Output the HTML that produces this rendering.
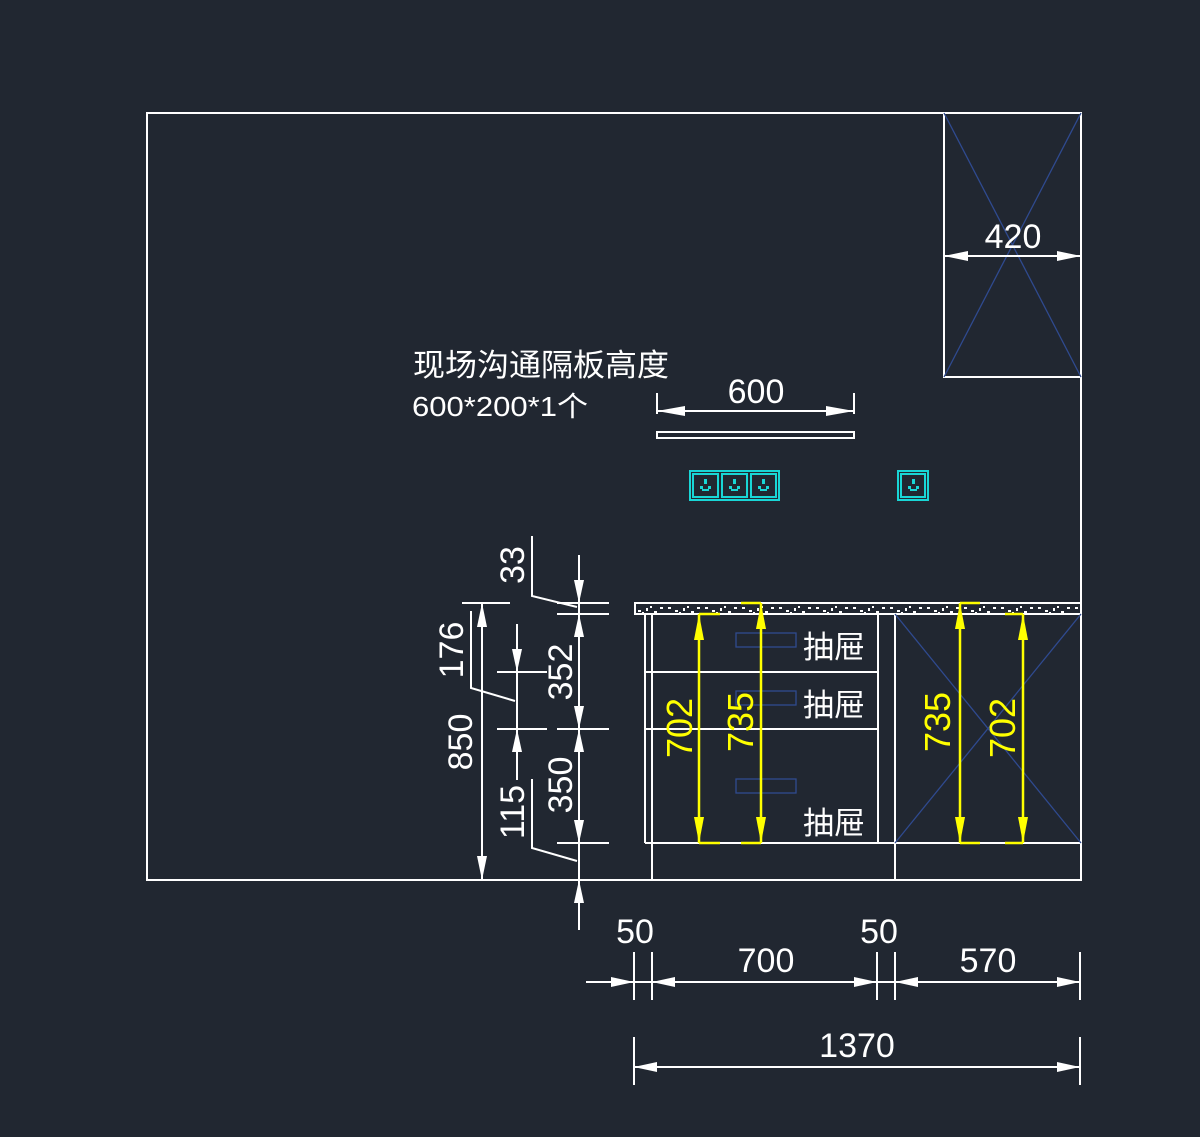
<!DOCTYPE html>
<html><head><meta charset="utf-8"><style>
html,body{margin:0;padding:0;background:#212731;}
svg{display:block}
text{font-family:"Liberation Sans","Noto Sans CJK SC",sans-serif;}
</style></head><body>
<svg width="1200" height="1137" viewBox="0 0 1200 1137" xmlns="http://www.w3.org/2000/svg">
<rect width="1200" height="1137" fill="#212731"/>
<defs>
<pattern id="sp" x="0" y="0" width="37" height="11" patternUnits="userSpaceOnUse">
<rect x="2" y="2" width="3" height="2" fill="#fff"/><rect x="9" y="5" width="3" height="2" fill="#fff"/>
<rect x="17" y="3" width="2" height="3" fill="#fff"/><rect x="25" y="6" width="3" height="2" fill="#fff"/>
<rect x="31" y="2" width="3" height="2" fill="#fff"/><rect x="13" y="7" width="2" height="2" fill="#fff"/>
<rect x="21" y="1" width="2" height="2" fill="#fff"/>
</pattern>
</defs>
<g stroke="#fff" stroke-width="2" fill="none">
<rect x="147" y="113" width="934" height="767"/>
<rect x="944" y="113" width="137" height="264"/>
<rect x="657" y="432" width="197" height="6"/>
<rect x="635" y="603" width="446" height="11"/>
<line x1="645" y1="614" x2="645" y2="843"/>
<line x1="652" y1="614" x2="652" y2="880"/>
<line x1="878" y1="614" x2="878" y2="843"/>
<line x1="895" y1="614" x2="895" y2="880"/>
<line x1="645" y1="672" x2="878" y2="672"/>
<line x1="645" y1="729" x2="878" y2="729"/>
<line x1="645" y1="843" x2="1081" y2="843"/>
</g>
<rect x="636" y="604" width="444" height="9" fill="url(#sp)"/>
<g stroke="#2f4a8f" stroke-width="1.3" fill="none">
<line x1="944" y1="113" x2="1081" y2="377"/><line x1="1081" y1="113" x2="944" y2="377"/>
<line x1="895" y1="614" x2="1081" y2="843"/><line x1="1081" y1="614" x2="895" y2="843"/>
<rect x="736" y="633" width="60" height="14"/>
<rect x="736" y="691" width="60" height="14"/>
<rect x="736" y="779" width="60" height="14"/>
</g>
<g stroke="#19d6d6" stroke-width="2" fill="none">
<rect x="690" y="471" width="89" height="29"/>
<rect x="693" y="474" width="25" height="23"/><rect x="722" y="474" width="25" height="23"/><rect x="751" y="474" width="25" height="23"/>
<rect x="898" y="471" width="30" height="29"/><rect x="901" y="474" width="24" height="23"/>
</g>
<g fill="#19d6d6">
<rect x="704" y="479" width="3" height="5"/><rect x="700" y="486" width="3" height="3"/><rect x="708" y="486" width="3" height="3"/><rect x="702" y="489" width="7" height="2"/>
<rect x="733" y="479" width="3" height="5"/><rect x="729" y="486" width="3" height="3"/><rect x="737" y="486" width="3" height="3"/><rect x="731" y="489" width="7" height="2"/>
<rect x="762" y="479" width="3" height="5"/><rect x="758" y="486" width="3" height="3"/><rect x="766" y="486" width="3" height="3"/><rect x="760" y="489" width="7" height="2"/>
<rect x="912" y="479" width="3" height="5"/><rect x="908" y="486" width="3" height="3"/><rect x="916" y="486" width="3" height="3"/><rect x="910" y="489" width="7" height="2"/>
</g>
<g stroke="#fff" stroke-width="2" fill="none">
<line x1="944" y1="256" x2="1081" y2="256"/>
<line x1="657" y1="393" x2="657" y2="414"/><line x1="854" y1="393" x2="854" y2="414"/>
<line x1="657" y1="411" x2="854" y2="411"/>
<line x1="482" y1="603" x2="482" y2="880"/><line x1="462" y1="603" x2="510" y2="603"/>
<line x1="462" y1="880" x2="512" y2="880"/>
<line x1="579" y1="555" x2="579" y2="930"/>
<line x1="557" y1="603" x2="609" y2="603"/><line x1="557" y1="614" x2="609" y2="614"/>
<line x1="557" y1="729" x2="609" y2="729"/><line x1="557" y1="843" x2="609" y2="843"/>
<line x1="557" y1="880" x2="609" y2="880"/>
<line x1="517" y1="624" x2="517" y2="780"/>
<line x1="497" y1="672" x2="547" y2="672"/><line x1="497" y1="729" x2="547" y2="729"/>
<polyline points="532,536 532,596 577,607"/>
<polyline points="471,611 471,688 515,701"/>
<polyline points="532,779 532,848 577,861"/>
<line x1="586" y1="982" x2="1080" y2="982"/>
<line x1="634" y1="952" x2="634" y2="1000"/><line x1="652" y1="952" x2="652" y2="1000"/>
<line x1="877" y1="952" x2="877" y2="1000"/><line x1="895" y1="952" x2="895" y2="1000"/>
<line x1="1080" y1="952" x2="1080" y2="1000"/>
<line x1="634" y1="1067" x2="1080" y2="1067"/>
<line x1="634" y1="1037" x2="634" y2="1085"/><line x1="1080" y1="1037" x2="1080" y2="1085"/>
</g>
<g fill="#fff">
<polygon points="944,256 968,251 968,261"/><polygon points="1081,256 1057,251 1057,261"/>
<polygon points="657,411 685,406 685,416"/><polygon points="854,411 826,406 826,416"/>
<polygon points="482,603 477,627 487,627"/><polygon points="482,880 477,856 487,856"/>
<polygon points="579,603 574,580 584,580"/><polygon points="579,614 574,637 584,637"/>
<polygon points="579,729 574,706 584,706"/><polygon points="579,729 574,752 584,752"/>
<polygon points="579,843 574,820 584,820"/><polygon points="579,880 574,903 584,903"/>
<polygon points="517,672 512,649 522,649"/><polygon points="517,729 512,752 522,752"/>
<polygon points="634,982 611,977 611,987"/><polygon points="652,982 675,977 675,987"/>
<polygon points="877,982 854,977 854,987"/><polygon points="895,982 918,977 918,987"/>
<polygon points="1080,982 1057,977 1057,987"/>
<polygon points="634,1067 657,1062 657,1072"/><polygon points="1080,1067 1057,1062 1057,1072"/>
</g>
<g stroke="#ffff00" stroke-width="2.5" fill="none">
<line x1="699" y1="614" x2="699" y2="843"/><line x1="761" y1="603" x2="761" y2="843"/>
<line x1="960" y1="603" x2="960" y2="843"/><line x1="1023" y1="614" x2="1023" y2="843"/>
<line x1="699" y1="614" x2="720" y2="614"/><line x1="699" y1="843" x2="720" y2="843"/>
<line x1="741" y1="603" x2="761" y2="603"/><line x1="741" y1="843" x2="761" y2="843"/>
<line x1="960" y1="603" x2="980" y2="603"/><line x1="960" y1="843" x2="980" y2="843"/>
<line x1="1005" y1="614" x2="1023" y2="614"/><line x1="1005" y1="843" x2="1023" y2="843"/>
</g>
<g fill="#ffff00">
<polygon points="699,614 694,640 704,640"/><polygon points="699,843 694,817 704,817"/>
<polygon points="761,603 756,629 766,629"/><polygon points="761,843 756,817 766,817"/>
<polygon points="960,603 955,629 965,629"/><polygon points="960,843 955,817 965,817"/>
<polygon points="1023,614 1018,640 1028,640"/><polygon points="1023,843 1018,817 1028,817"/>
</g>
<g fill="#ffff00" font-size="36" text-anchor="middle">
<text transform="translate(692,728) rotate(-90)">702</text>
<text transform="translate(753,722) rotate(-90)">735</text>
<text transform="translate(950,722) rotate(-90)">735</text>
<text transform="translate(1015,728) rotate(-90)">702</text>
</g>
<g fill="#fff" font-size="34" text-anchor="middle">
<text x="1013" y="248">420</text>
<text x="756" y="403">600</text>
<text x="635" y="943">50</text>
<text x="766" y="972">700</text>
<text x="879" y="943">50</text>
<text x="988" y="972">570</text>
<text x="857" y="1057">1370</text>
<text transform="translate(472,742) rotate(-90)">850</text>
<text transform="translate(463,650) rotate(-90)">176</text>
<text transform="translate(524,565) rotate(-90)">33</text>
<text transform="translate(572,672) rotate(-90)">352</text>
<text transform="translate(572,785) rotate(-90)">350</text>
<text transform="translate(524,812) rotate(-90)">115</text>
</g>
<g fill="#fff">
<text x="413" y="376" font-size="31" textLength="256" lengthAdjust="spacingAndGlyphs">现场沟通隔板高度</text>
<text x="412" y="416" font-size="28" textLength="176" lengthAdjust="spacingAndGlyphs">600*200*1个</text>
<text x="803" y="658" font-size="31">抽屉</text>
<text x="803" y="716" font-size="31">抽屉</text>
<text x="803" y="834" font-size="31">抽屉</text>
</g>
</svg>
</body></html>
